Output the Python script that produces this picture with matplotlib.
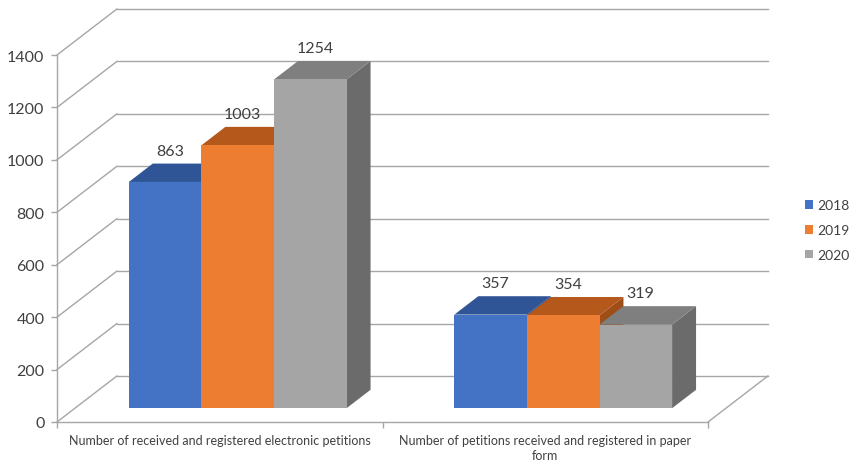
import matplotlib
matplotlib.use("Agg")
import matplotlib.pyplot as plt
from matplotlib.patches import Polygon, Patch

plt.rcParams['font.family'] = ['Lato', 'DejaVu Sans']

# ---- data -------------------------------------------------------------
categories = [
    "Number of received and registered electronic petitions",
    "Number of petitions received and registered in paper\nform",
]
years = ["2018", "2019", "2020"]
values_2018 = [863, 357]
values_2019 = [1003, 354]
values_2020 = [1254, 319]
y_ticks = [0, 200, 400, 600, 800, 1000, 1200, 1400]

series = [values_2018, values_2019, values_2020]

# ---- styling ----------------------------------------------------------
front_colors = ["#4472C4", "#ED7D31", "#A5A5A5"]
top_colors = ["#2F5597", "#B4581C", "#7F7F7F"]
side_colors = ["#264780", "#A04E18", "#6B6B6B"]
grid_color = "#A6A6A6"
text_color = "#404040"

# oblique depth offset of the full floor (x in category units, y in value units)
DX = 0.184
DY = 175.5
# bars occupy this slice of the depth
D0, D1 = 0.30, 0.70
BAR_W = 0.223

fig = plt.figure(figsize=(8.51, 4.64), dpi=100)
ax = fig.add_axes([57 / 851, 41 / 464, 651 / 851, 367 / 464])
ax.set_xlim(0, 2)
ax.set_ylim(0, 1400)

for s in ["top", "right"]:
    ax.spines[s].set_visible(False)
for s in ["left", "bottom"]:
    ax.spines[s].set_color(grid_color)
    ax.spines[s].set_linewidth(1.0)

line_kw = dict(color=grid_color, lw=1.0, clip_on=False, zorder=1)

# back wall gridlines and side wall diagonals
for g in y_ticks:
    ax.plot([DX, 2 + DX], [g + DY, g + DY], **line_kw)
    ax.plot([0, DX], [g, g + DY], **line_kw)
# right edge of the floor
ax.plot([2, 2 + DX], [0, DY], **line_kw)

# ---- bars -------------------------------------------------------------
for ci in range(len(categories)):
    center = ci + 0.5
    for si, vals in enumerate(series):
        v = vals[ci]
        x0 = center + (si - 1.5) * BAR_W
        x1 = x0 + BAR_W
        fx0, fx1 = x0 + D0 * DX, x1 + D0 * DX
        fy0 = D0 * DY
        fy1 = fy0 + v
        bx0, bx1 = x0 + D1 * DX, x1 + D1 * DX
        by0 = D1 * DY
        by1 = by0 + v
        z = 3 + ci * 10 + si
        side = Polygon([(fx1, fy0), (bx1, by0), (bx1, by1), (fx1, fy1)],
                       closed=True, fc=side_colors[si], ec="none",
                       zorder=z, clip_on=False)
        top = Polygon([(fx0, fy1), (fx1, fy1), (bx1, by1), (bx0, by1)],
                      closed=True, fc=top_colors[si], ec="none",
                      zorder=z, clip_on=False)
        front = Polygon([(fx0, fy0), (fx1, fy0), (fx1, fy1), (fx0, fy1)],
                        closed=True, fc=front_colors[si], ec="none",
                        zorder=z, clip_on=False)
        for p in (side, top, front):
            ax.add_patch(p)
        lx = (fx0 + fx1) / 2 + 0.2 * (D1 - D0) * DX
        ly = by1 + 22
        ax.text(lx, ly, f"{v}", ha="center", va="bottom", fontsize=11.5,
                color=text_color, zorder=50, clip_on=False)

# ---- axes ticks -------------------------------------------------------
ax.set_yticks(y_ticks)
ax.set_yticklabels([str(t) for t in y_ticks], fontsize=11.5, color=text_color)
ax.tick_params(axis="y", length=4, width=1.0, color=grid_color, pad=5)

ax.set_xticks([0.5, 1.5])
ax.set_xticklabels(categories, fontsize=9, color=text_color,
                   multialignment="center", linespacing=1.25)
ax.set_xticks([0, 1, 2], minor=True)
ax.tick_params(axis="x", which="major", length=0, pad=9)
ax.tick_params(axis="x", which="minor", length=4, width=1.0, color=grid_color)

# ---- legend -----------------------------------------------------------
handles = [Patch(fc=c, ec="none") for c in front_colors]
leg = fig.legend(handles, years, loc="center left",
                 bbox_to_anchor=(805 / 851, 1 - 231 / 464),
                 frameon=False, fontsize=10, handlelength=0.6,
                 handleheight=0.6, handletextpad=0.3, labelspacing=0.93,
                 borderpad=0, borderaxespad=0)
for t in leg.get_texts():
    t.set_color(text_color)

fig.savefig("out.png", dpi=100)
